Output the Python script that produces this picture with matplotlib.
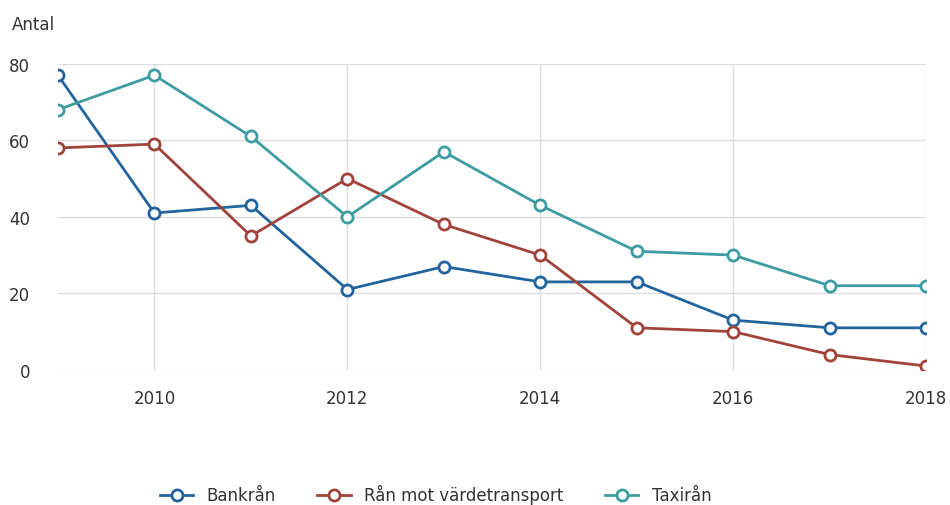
import numpy as np
import matplotlib.pyplot as plt

years = [2009, 2010, 2011, 2012, 2013, 2014, 2015, 2016, 2017, 2018]
bankran = [77, 41, 43, 21, 27, 23, 23, 13, 11, 11]
vardetransport = [58, 59, 35, 50, 38, 30, 11, 10, 4, 1]
taxiran = [68, 77, 61, 40, 57, 43, 31, 30, 22, 22]

labels = ["Bankrån", "Rån mot värdetransport", "Taxirån"]
colors = ["#22649e", "#a0433a", "#3d9ca2"]

fig = plt.figure(figsize=(9.5, 5.06), dpi=100)
ax = fig.add_axes([0.061, 0.267, 0.914, 0.605])

for vals, lab, col in zip([bankran, vardetransport, taxiran], labels, colors):
    ax.plot(years, vals, color=col, lw=2, marker="o", ms=8,
            mfc="white", mec=col, mew=2, label=lab)

ax.set_xlim(2009, 2018)
ax.set_ylim(0, 80)
ax.set_xticks([2010, 2012, 2014, 2016, 2018])
ax.set_yticks([0, 20, 40, 60, 80])
ax.grid(color="#dddddd", lw=1)
ax.set_axisbelow(True)
for s in ax.spines.values():
    s.set_visible(False)
ax.tick_params(length=0, labelsize=12, colors="#333333", pad=14)
ax.tick_params(axis="y", pad=20)

fig.text(0.013, 0.94, "Antal", fontsize=12, color="#333333")

ax.legend(loc="upper center", bbox_to_anchor=(0.435, -0.325), ncol=3,
          frameon=False, fontsize=12, handlelength=2, columnspacing=2.5,
          labelcolor="#333333")

fig.savefig("out.png", dpi=100)
